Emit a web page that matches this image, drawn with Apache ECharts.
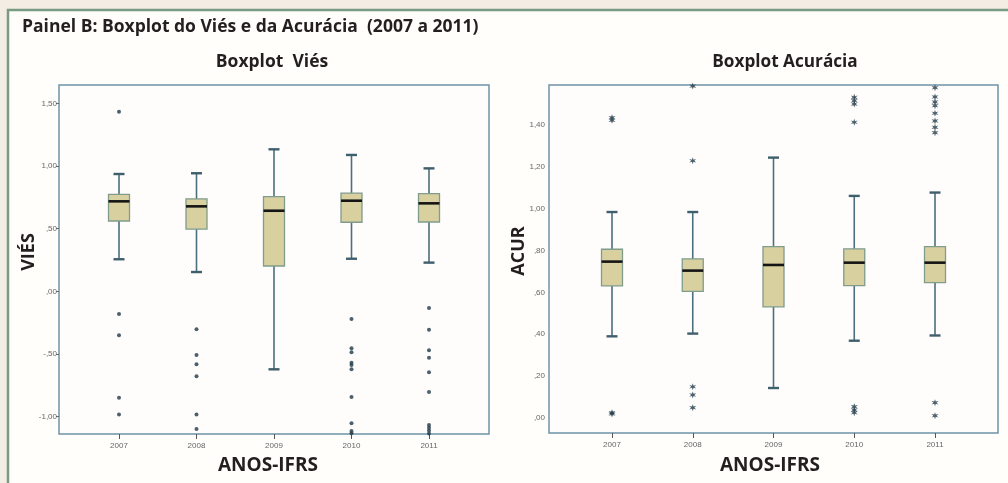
<!DOCTYPE html>
<html style="height: 100%">

<head>
  <meta charset="utf-8">
  <title>Painel B: Boxplot do Viés e da Acurácia</title>
</head>

<body style="height: 100%; margin: 0; background: #f3ede3">
  <div id="container" style="width: 1008px; height: 483px"></div>
  <script type="text/javascript" src="https://cdn.jsdelivr.net/npm/echarts@6/dist/echarts.min.js"></script>
  <script type="text/javascript">
    var years = ['2007', '2008', '2009', '2010', '2011'];

    // Viés: bigodes, quartis e mediana por ano
    var viesLow = [0.256, 0.154, -0.622, 0.260, 0.229];
    var viesQ1 = [0.561, 0.497, 0.202, 0.551, 0.553];
    var viesMedian = [0.718, 0.678, 0.643, 0.723, 0.702];
    var viesQ3 = [0.774, 0.737, 0.755, 0.784, 0.779];
    var viesHigh = [0.936, 0.942, 1.133, 1.088, 0.981];
    var viesOutliers = [
      [1.433, -0.181, -0.351, -0.848, -0.983],
      [-0.302, -0.508, -0.582, -0.678, -0.983, -1.098],
      [],
      [-0.221, -0.454, -0.486, -0.569, -0.588, -0.622, -0.843, -1.053, -1.114, -1.133],
      [-0.133, -0.306, -0.470, -0.529, -0.646, -0.803, -1.066, -1.088, -1.111, -1.135]
    ];

    // Acurácia
    var acurLow = [0.390, 0.403, 0.143, 0.369, 0.394];
    var acurQ1 = [0.631, 0.605, 0.531, 0.632, 0.647];
    var acurMedian = [0.747, 0.704, 0.731, 0.742, 0.742];
    var acurQ3 = [0.806, 0.760, 0.819, 0.808, 0.819];
    var acurHigh = [0.984, 0.984, 1.244, 1.061, 1.077];
    var acurOutliers = [
      [1.435, 1.422, 0.025, 0.019],
      [1.586, 1.229, 0.149, 0.110, 0.049],
      [],
      [1.532, 1.516, 1.500, 1.413, 0.054, 0.038, 0.025],
      [1.578, 1.534, 1.510, 1.492, 1.456, 1.419, 1.389, 1.363, 0.073, 0.011]
    ];

    var ink = '#231f20';
    var titleFont = 'Open Sans';
    var asterisk = 'path://M0,-5 L1,-1.6 L4.3,-2.5 L2,0 L4.3,2.5 L1,1.6 L0,5 L-1,1.6 L-4.3,2.5 L-2,0 L-4.3,-2.5 L-1,-1.6 Z';

    function boxRows(low, q1, med, q3, high) {
      return years.map(function (y, i) {
        return [i, low[i], q1[i], med[i], q3[i], high[i]];
      });
    }

    function outlierRows(list) {
      var rows = [];
      list.forEach(function (vals, i) {
        vals.forEach(function (v) { rows.push([i, v]); });
      });
      return rows;
    }

    // formato SPSS: 1,50  ,50  -,50
    function spss(v) {
      var s = Math.abs(v).toFixed(2).replace('.', ',');
      if (s.charAt(0) === '0') s = s.slice(1);
      return (v < -1e-9 ? '-' : '') + s;
    }

    function renderBox(params, api) {
      var x = api.value(0);
      var low = api.coord([x, api.value(1)]);
      var q1 = api.coord([x, api.value(2)]);
      var med = api.coord([x, api.value(3)]);
      var q3 = api.coord([x, api.value(4)]);
      var high = api.coord([x, api.value(5)]);
      var cx = low[0], half = 10.5, cap = 5.5;
      function w() { return { stroke: '#4a6f7e', lineWidth: 1.6 }; }
      function c() { return { stroke: '#3f5f6c', lineWidth: 2.4 }; }
      return {
        type: 'group',
        children: [
          { type: 'line', shape: { x1: cx, y1: low[1], x2: cx, y2: q1[1] }, style: w() },
          { type: 'line', shape: { x1: cx, y1: q3[1], x2: cx, y2: high[1] }, style: w() },
          { type: 'line', shape: { x1: cx - cap, y1: low[1], x2: cx + cap, y2: low[1] }, style: c() },
          { type: 'line', shape: { x1: cx - cap, y1: high[1], x2: cx + cap, y2: high[1] }, style: c() },
          {
            type: 'rect',
            shape: { x: cx - half, y: q3[1], width: half * 2, height: q1[1] - q3[1] },
            style: { fill: '#d9d09f', stroke: '#7f9c8d', lineWidth: 1.3 }
          },
          { type: 'line', shape: { x1: cx - half, y1: med[1], x2: cx + half, y2: med[1] }, style: { stroke: '#151515', lineWidth: 2.6 } }
        ]
      };
    }

    function catAxis(grid) {
      return {
        gridIndex: grid,
        type: 'category',
        data: years,
        boundaryGap: false,
        axisLine: { show: false, onZero: false },
        axisTick: { show: true, length: 5, lineStyle: { color: '#555' } },
        axisLabel: { fontSize: 8, color: '#666', margin: 8, fontFamily: 'Liberation Sans' }
      };
    }

    function textEl(str, x, y, size, rot) {
      return {
        type: 'text', x: x, y: y, rotation: rot || 0,
        style: {
          text: str, fontSize: size, fontWeight: 'bold', fontFamily: titleFont,
          fill: ink, align: 'center', verticalAlign: 'middle'
        }
      };
    }

    var dom = document.getElementById('container');
    var myChart = echarts.init(dom);

    var option = {
      animation: false,
      graphic: [
        {
          type: 'rect', z: -100,
          shape: { x: 8, y: 10, width: 1010, height: 490 },
          style: { fill: '#fffefa', stroke: '#7a9a84', lineWidth: 2.5 }
        },
        {
          type: 'text', x: 22, y: 27,
          style: {
            text: 'Painel B: Boxplot do Viés e da Acurácia  (2007 a 2011)', fontSize: 17.5, fontWeight: 'bold',
            fontFamily: titleFont, fill: ink, align: 'left', verticalAlign: 'middle'
          }
        },
        textEl('Boxplot  Viés', 272, 62, 17.5),
        textEl('Boxplot Acurácia', 785, 62, 17.2),
        textEl('ANOS-IFRS', 268, 466, 19),
        textEl('ANOS-IFRS', 770, 466, 19),
        textEl('VIÉS', 29, 252, 18, Math.PI / 2),
        textEl('ACUR', 519, 251, 18, Math.PI / 2)
      ],
      grid: [
        { left: 59, top: 85, width: 430, height: 349, show: true, backgroundColor: '#fffdfb', borderColor: '#6f93a6', borderWidth: 1.5 },
        { left: 119, top: 85, width: 310, height: 349 },
        { left: 549, top: 85, width: 449, height: 348, show: true, backgroundColor: '#fffdfb', borderColor: '#6f93a6', borderWidth: 1.5 },
        { left: 612, top: 85, width: 323, height: 348 }
      ],
      xAxis: [
        { gridIndex: 0, type: 'value', min: 0, max: 1, show: false },
        catAxis(1),
        { gridIndex: 2, type: 'value', min: 0, max: 1, show: false },
        catAxis(3)
      ],
      yAxis: [
        { gridIndex: 0, type: 'value', min: 0, max: 1, show: false },
        {
          gridIndex: 1, type: 'value', min: -1.138, max: 1.646, offset: 60,
          splitLine: { show: false }, axisLine: { show: false },
          axisTick: { show: true, length: 3, lineStyle: { color: '#666' } },
          axisLabel: { showMinLabel: false, showMaxLabel: false, fontSize: 8, color: '#666', margin: 2, fontFamily: 'Liberation Sans', formatter: spss }
        },
        { gridIndex: 2, type: 'value', min: 0, max: 1, show: false },
        {
          gridIndex: 3, type: 'value', min: -0.072, max: 1.591, splitNumber: 8, offset: 63,
          splitLine: { show: false }, axisLine: { show: false }, axisTick: { show: false },
          axisLabel: { showMinLabel: false, showMaxLabel: false, fontSize: 8, color: '#666', margin: 4, fontFamily: 'Liberation Sans', formatter: spss }
        }
      ],
      series: [
        {
          type: 'custom', xAxisIndex: 1, yAxisIndex: 1, renderItem: renderBox,
          data: boxRows(viesLow, viesQ1, viesMedian, viesQ3, viesHigh)
        },
        {
          type: 'scatter', xAxisIndex: 1, yAxisIndex: 1, symbol: 'circle', symbolSize: 4,
          itemStyle: { color: '#1e3848' }, data: outlierRows(viesOutliers)
        },
        {
          type: 'custom', xAxisIndex: 3, yAxisIndex: 3, renderItem: renderBox,
          data: boxRows(acurLow, acurQ1, acurMedian, acurQ3, acurHigh)
        },
        {
          type: 'scatter', xAxisIndex: 3, yAxisIndex: 3, symbol: asterisk, symbolSize: 7,
          itemStyle: { color: '#1e3848' }, data: outlierRows(acurOutliers)
        }
      ]
    };

    if (option && typeof option === 'object') {
      myChart.setOption(option, true);
    }
  </script>
</body>

</html>
